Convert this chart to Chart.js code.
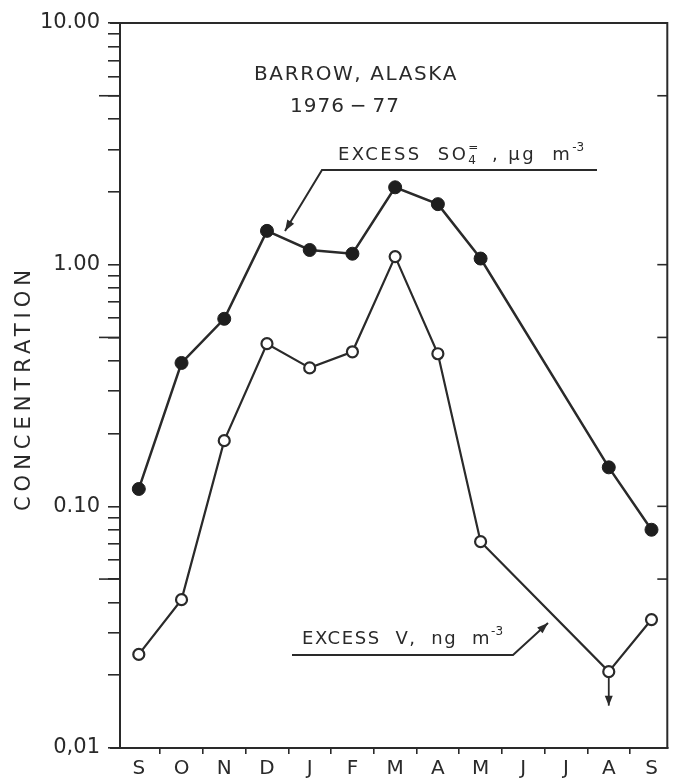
<!DOCTYPE html>
<html>
<head>
<meta charset="utf-8">
<script src="https://cdn.jsdelivr.net/npm/chart.js@4.4.0/dist/chart.umd.min.js"></script>
<style>
  html, body { margin: 0; padding: 0; background: #fff; }
  #wrap { width: 675px; height: 784px; }
</style>
</head>
<body>
<div id="wrap"><canvas id="barrowChart" width="675" height="784"></canvas></div>
<script>
// Barrow, Alaska 1976-77, monthly means (log scale)
const months = ["S", "O", "N", "D", "J", "F", "M", "A", "M", "J", "J", "A", "S"];
const sulfate = [0.118, 0.392, 0.597, 1.38, 1.15, 1.11, 2.09, 1.78, 1.06, null, null, 0.145, 0.080];
const vanadium = [0.0244, 0.0411, 0.187, 0.471, 0.374, 0.436, 1.08, 0.428, 0.0714, null, null, 0.0207, 0.034];
const yLabelValues = [0.01, 0.1, 1, 10];
const yLabelText = ["0,01", "0.10", "1.00", "10.00"];
const halfDecades = [0.05, 0.5, 5];

const ink = "#2a2a2a";

function toPoints(values) {
  return values
    .map((v, i) => ({ x: i, y: v }))
    .filter(p => p.y !== null);
}

function arrow(ctx, pts, head = 11) {
  ctx.beginPath();
  ctx.moveTo(pts[0][0], pts[0][1]);
  for (let i = 1; i < pts.length; i++) ctx.lineTo(pts[i][0], pts[i][1]);
  ctx.stroke();
  const [x1, y1] = pts[pts.length - 2];
  const [x2, y2] = pts[pts.length - 1];
  const a = Math.atan2(y2 - y1, x2 - x1);
  ctx.beginPath();
  ctx.moveTo(x2, y2);
  ctx.lineTo(x2 - head * Math.cos(a) + 4 * Math.sin(a), y2 - head * Math.sin(a) - 4 * Math.cos(a));
  ctx.lineTo(x2 - head * Math.cos(a) - 4 * Math.sin(a), y2 - head * Math.sin(a) + 4 * Math.cos(a));
  ctx.closePath();
  ctx.fill();
}

// draws text pieces left to right, small ones raised/lowered
function pieces(ctx, x, y, list) {
  ctx.textAlign = "left";
  ctx.textBaseline = "alphabetic";
  let cx = x;
  list.forEach(p => {
    ctx.font = p.size + "px 'DejaVu Sans'";
    ctx.letterSpacing = (p.ls || 0) + "px";
    ctx.fillText(p.t, cx, y + (p.dy || 0));
    if (!p.stay) cx += ctx.measureText(p.t).width;
  });
  ctx.letterSpacing = "0px";
}

const decor = {
  id: "decor",
  afterDraw(chart) {
    const { ctx, chartArea: a, scales } = chart;
    const ys = scales.y, xs = scales.x;
    ctx.save();
    ctx.strokeStyle = ink;
    ctx.fillStyle = ink;
    ctx.lineWidth = 2;

    // frame top + right
    ctx.beginPath();
    ctx.moveTo(a.left - 10, a.top);
    ctx.lineTo(a.right, a.top);
    ctx.lineTo(a.right, a.bottom);
    ctx.stroke();
    ctx.beginPath();
    ctx.moveTo(a.left - 10, a.bottom);
    ctx.lineTo(a.left, a.bottom);
    ctx.stroke();

    // longer half-decade ticks on the left, inside ticks on the right
    ctx.lineWidth = 1.6;
    halfDecades.forEach(v => {
      const py = ys.getPixelForValue(v);
      ctx.beginPath();
      ctx.moveTo(a.left - 21, py);
      ctx.lineTo(a.left, py);
      ctx.stroke();
    });
    halfDecades.concat([0.1, 1]).forEach(v => {
      const py = ys.getPixelForValue(v);
      ctx.beginPath();
      ctx.moveTo(a.right - 10, py);
      ctx.lineTo(a.right, py);
      ctx.stroke();
    });

    // title block
    ctx.font = "20px 'DejaVu Sans'";
    ctx.textAlign = "center";
    ctx.textBaseline = "alphabetic";
    ctx.letterSpacing = "1.6px";
    ctx.fillText("BARROW, ALASKA", 356, 80);
    ctx.letterSpacing = "1px";
    ctx.fillText("1976\u2009\u2212\u200977", 345, 112);

    // y title
    ctx.save();
    ctx.translate(25, 388);
    ctx.rotate(-Math.PI / 2);
    ctx.font = "21px 'DejaVu Sans'";
    ctx.letterSpacing = "5px";
    ctx.textBaseline = "middle";
    ctx.fillText("CONCENTRATION", 0, 0);
    ctx.restore();

    // sulfate label
    pieces(ctx, 338, 160, [
      { t: "EXCESS  SO", size: 18, ls: 2.4 },
      { t: "=", size: 12, dy: -9, stay: true },
      { t: "4", size: 12, dy: 4 },
      { t: "  , \u00b5g  m", size: 18, ls: 2.4 },
      { t: "-3", size: 12, dy: -9 }
    ]);
    ctx.lineWidth = 2;
    arrow(ctx, [[597, 170], [322, 170], [285, 231]]);

    // vanadium label
    pieces(ctx, 302, 644, [
      { t: "EXCESS  V,  ng  m", size: 18, ls: 1.6 },
      { t: "-3", size: 12, dy: -9 }
    ]);
    arrow(ctx, [[292, 655], [513, 655], [548, 623]]);

    // detection-limit arrow on the August vanadium value
    const ax = xs.getPixelForValue(11);
    const ay = ys.getPixelForValue(vanadium[11]);
    ctx.lineWidth = 1.8;
    arrow(ctx, [[ax, ay + 6], [ax, ay + 34]], 10);

    ctx.restore();
  }
};

const ctx = document.getElementById("barrowChart").getContext("2d");

new Chart(ctx, {
  type: "line",
  data: {
    datasets: [
      {
        label: "Excess SO4, ug m-3",
        data: toPoints(sulfate),
        borderColor: ink,
        borderWidth: 2.5,
        pointRadius: 6.5,
        pointBackgroundColor: "#1e1e1e",
        pointBorderColor: "#1e1e1e",
        pointBorderWidth: 1,
        tension: 0,
      },
      {
        label: "Excess V, ng m-3",
        data: toPoints(vanadium),
        borderColor: ink,
        borderWidth: 2.2,
        pointRadius: 5.5,
        pointBackgroundColor: "#ffffff",
        pointBorderColor: ink,
        pointBorderWidth: 2.2,
        tension: 0,
      },
    ],
  },
  options: {
    responsive: false,
    animation: false,
    layout: { padding: { top: 23, right: 4, left: 0, bottom: 0 } },
    plugins: {
      legend: { display: false },
      tooltip: { enabled: false },
    },
    scales: {
      x: {
        type: "linear",
        min: -0.44,
        max: 12.37,
        afterBuildTicks: axis => {
          axis.ticks = months.flatMap((m, i) => (i < 12 ? [{ value: i }, { value: i + 0.5 }] : [{ value: i }]));
        },
        afterFit: axis => { axis.height = 36; },
        ticks: {
          autoSkip: false,
          maxRotation: 0,
          padding: 3,
          color: ink,
          font: { family: "'DejaVu Sans'", size: 20 },
          callback: v => (Number.isInteger(v) ? months[v] : ""),
        },
        grid: {
          drawOnChartArea: false,
          tickLength: 6,
          lineWidth: 1.6,
          color: c => (c.tick && !Number.isInteger(c.tick.value) ? ink : "rgba(0,0,0,0)"),
        },
        border: { display: true, color: ink, width: 2 },
      },
      y: {
        type: "logarithmic",
        min: 0.01,
        max: 10,
        afterBuildTicks: axis => {
          const t = [];
          [0.01, 0.1, 1].forEach(d => {
            for (let k = 1; k <= 9; k++) t.push({ value: +(d * k).toPrecision(3) });
          });
          t.push({ value: 10 });
          axis.ticks = t;
        },
        afterFit: axis => { axis.width = 120; },
        ticks: {
          autoSkip: false,
          padding: 8,
          color: ink,
          font: { family: "'DejaVu Sans'", size: 21 },
          callback: v => {
            const i = yLabelValues.findIndex(d => Math.abs(d - v) / d < 1e-6);
            return i >= 0 ? yLabelText[i] : "";
          },
        },
        grid: {
          drawOnChartArea: false,
          tickLength: 12,
          lineWidth: 1.6,
          color: ink,
        },
        border: { display: true, color: ink, width: 2 },
      },
    },
  },
  plugins: [decor],
});
</script>
</body>
</html>
